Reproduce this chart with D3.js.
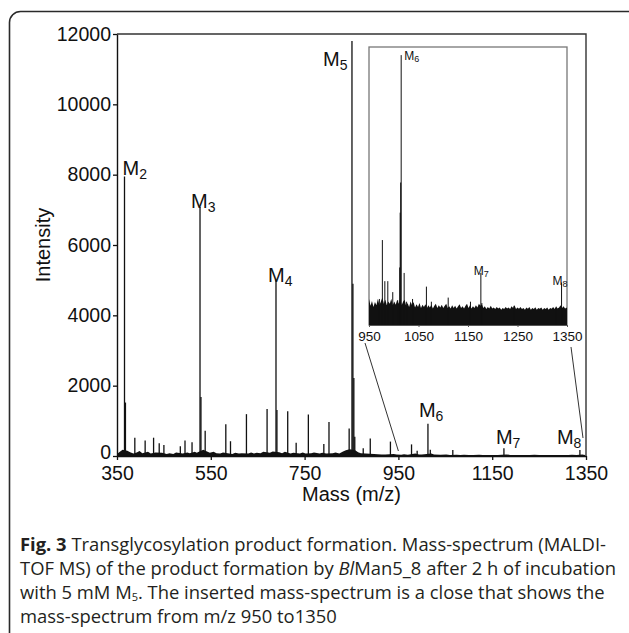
<!DOCTYPE html>
<html>
<head>
<meta charset="utf-8">
<script src="https://cdn.jsdelivr.net/npm/d3@7"></script>
<style>
  body { margin: 0; background: #fff; }
  svg { display: block; }
</style>
</head>
<body>
<div id="chart"></div>
<script>
// tick values
const massTicks = [350, 550, 750, 950, 1150, 1350];
const intensityTicks = [0, 2000, 4000, 6000, 8000, 10000, 12000];
const insetTicks = [950, 1050, 1150, 1250, 1350];

// main spectrum: major and minor peaks [m/z, intensity]
const mainPeaks = [
  [366, 7950], [368, 1520], [388, 520], [410, 440], [428, 520], [440, 360], [450, 310],
  [485, 280], [495, 440], [510, 390], [527, 7080], [529, 1680], [538, 720],
  [582, 900], [592, 420], [626, 1190], [670, 1340], [689, 5020], [691, 1310],
  [714, 1270], [732, 380], [758, 1180], [791, 340], [802, 970], [845, 780],
  [851, 11800], [853, 4900], [855, 2220], [857, 550], [875, 220], [890, 500],
  [933, 410], [978, 330], [990, 150], [1013, 920], [1018, 180], [1066, 170],
  [1175, 220], [1337, 170]
];

// main spectrum: noise floor [m/z, intensity]
const mainNoise = [
  [352, 80], [356, 120], [362, 180], [372, 150], [378, 110], [385, 70], [392, 100],
  [398, 140], [404, 80], [416, 120], [422, 70], [432, 100], [446, 90], [456, 60],
  [462, 80], [470, 60], [476, 100], [490, 70], [500, 100], [505, 80], [516, 120],
  [520, 90], [534, 180], [542, 130], [548, 90], [556, 120], [562, 80], [570, 70],
  [576, 100], [586, 80], [596, 60], [602, 90], [610, 70], [616, 80], [630, 70],
  [636, 100], [642, 70], [648, 90], [656, 80], [662, 120], [676, 90], [682, 130],
  [696, 110], [702, 80], [708, 120], [720, 70], [726, 90], [740, 70], [746, 100],
  [752, 70], [764, 80], [770, 100], [782, 70], [788, 90], [796, 70], [810, 80],
  [816, 100], [824, 70], [832, 130], [838, 160], [846, 190], [858, 160], [864, 110],
  [870, 80], [880, 70], [898, 60], [906, 50], [914, 45], [922, 40], [940, 55],
  [946, 40], [956, 35], [962, 50], [970, 35], [986, 70], [994, 45], [1000, 40],
  [1020, 70], [1026, 45], [1040, 35], [1052, 40], [1060, 30], [1074, 35], [1082, 30],
  [1090, 35], [1100, 28], [1110, 30], [1122, 35], [1130, 28], [1140, 30], [1150, 32],
  [1162, 28], [1170, 35], [1180, 40], [1190, 30], [1200, 28], [1210, 32], [1222, 28],
  [1230, 30], [1240, 35], [1250, 28], [1262, 30], [1272, 28], [1282, 32], [1292, 28],
  [1300, 30], [1312, 28], [1320, 35], [1330, 30], [1342, 40], [1348, 25]
];

// peak labels [index, m/z, intensity at label baseline]
const mainLabels = [
  ["2", 366, 8000], ["3", 527, 7050], ["4", 689, 4960],
  ["5", 851, 11100], ["6", 1013, 1120], ["7", 1175, 340], ["8", 1337, 340]
];

// inset spectrum (relative units, M6 = top)
const insetPeaks = [
  [971, 95], [977, 310], [982, 160], [988, 160], [998, 120], [1008, 90],
  [1012, 210], [1013, 410], [1014, 520], [1015, 985], [1021, 190], [1026, 85],
  [1038, 95], [1066, 140], [1076, 85], [1110, 100], [1155, 85], [1176, 190],
  [1178, 80], [1243, 70], [1327, 60], [1339, 155]
];

const insetNoise = [
  [950, 95], [953, 70], [956, 88], [959, 66], [962, 84], [965, 72], [968, 96],
  [971, 72], [974, 86], [977, 100], [980, 78], [983, 92], [986, 72], [989, 86],
  [992, 78], [995, 96], [998, 72], [1001, 86], [1004, 74], [1007, 92], [1010, 78],
  [1013, 96], [1016, 72], [1019, 86], [1022, 92], [1025, 70], [1028, 80], [1031, 66],
  [1034, 86], [1037, 72], [1040, 84], [1043, 64], [1046, 76], [1049, 66], [1052, 80],
  [1055, 62], [1058, 74], [1061, 66], [1064, 76], [1067, 62], [1070, 72], [1073, 64],
  [1076, 74], [1079, 60], [1082, 70], [1085, 78], [1088, 62], [1091, 72], [1094, 64],
  [1097, 74], [1100, 62], [1103, 70], [1106, 78], [1109, 62], [1112, 68], [1115, 60],
  [1118, 72], [1121, 62], [1124, 70], [1127, 60], [1130, 68], [1133, 76], [1136, 62],
  [1139, 68], [1142, 60], [1145, 70], [1148, 78], [1151, 62], [1154, 72], [1157, 60],
  [1160, 68], [1163, 62], [1166, 72], [1169, 64], [1172, 78], [1175, 70], [1178, 76],
  [1181, 62], [1184, 68], [1187, 58], [1190, 66], [1193, 60], [1196, 70], [1199, 60],
  [1202, 64], [1205, 58], [1208, 66], [1211, 60], [1214, 64], [1217, 56], [1220, 62],
  [1223, 58], [1226, 66], [1229, 60], [1232, 64], [1235, 58], [1238, 68], [1241, 62],
  [1244, 72], [1247, 58], [1250, 64], [1253, 59], [1256, 66], [1259, 58], [1262, 62],
  [1265, 56], [1268, 64], [1271, 59], [1274, 66], [1277, 56], [1280, 62], [1283, 58],
  [1286, 65], [1289, 56], [1292, 62], [1295, 59], [1298, 64], [1301, 56], [1304, 62],
  [1307, 58], [1310, 64], [1313, 56], [1316, 62], [1319, 59], [1322, 66], [1325, 58],
  [1328, 68], [1331, 60], [1334, 64], [1337, 72], [1340, 62], [1343, 68], [1346, 60], [1350, 64]
];

const insetLabels = [["6", 1015, 1000], ["7", 1176, 215], ["8", 1339, 180]];

const captionLines = [
  [{ t: "Fig. 3", b: true }, { t: " Transglycosylation product formation. Mass-spectrum (MALDI-" }],
  [{ t: "TOF MS) of the product formation by " }, { t: "Bl", i: true }, { t: "Man5_8 after 2 h of incubation" }],
  [{ t: "with 5 mM M" }, { t: "5", sub: true }, { t: ". The inserted mass-spectrum is a close that shows the", up: true }],
  [{ t: "mass-spectrum from m/z 950 to1350" }]
];

const W = 629, H = 633;
const axisFont = "'Liberation Sans', Arial, sans-serif";

const svg = d3.select("#chart").append("svg")
  .attr("width", W)
  .attr("height", H);

// rounded figure frame, runs off the right and bottom
svg.append("rect")
  .attr("x", 9.5).attr("y", 11.5)
  .attr("width", 640).attr("height", 660)
  .attr("rx", 11)
  .attr("fill", "none")
  .attr("stroke", "#2a2a2a")
  .attr("stroke-width", 1.6);

// main scales
const x = d3.scaleLinear().domain([350, 1350]).range([117, 586]);
const y = d3.scaleLinear().domain([0, 12000]).range([456, 34]);

const main = svg.append("g");

// top and right frame lines
main.append("path")
  .attr("d", d3.line()([[x(350), y(12000)], [x(1350), y(12000)], [x(1350), y(0)]]))
  .attr("fill", "none")
  .attr("stroke", "#333")
  .attr("stroke-width", 1.4);

// noise floor
main.append("path")
  .datum(mainNoise)
  .attr("d", d3.area().x(d => x(d[0])).y0(y(0)).y1(d => y(d[1])))
  .attr("fill", "#111");

// peaks
main.selectAll("line.peak")
  .data(mainPeaks)
  .enter()
  .append("line")
  .attr("class", "peak")
  .attr("x1", d => x(d[0])).attr("x2", d => x(d[0]))
  .attr("y1", y(0)).attr("y2", d => y(d[1]))
  .attr("stroke", "#111")
  .attr("stroke-width", 1.3);

// axes
const xAxis = main.append("g")
  .attr("transform", `translate(0,${y(0)})`)
  .call(d3.axisBottom(x).tickValues(massTicks).tickFormat(d3.format("d"))
    .tickSize(4).tickSizeOuter(0).tickPadding(6.5));

const yAxis = main.append("g")
  .attr("transform", `translate(${x(350)},0)`)
  .call(d3.axisLeft(y).tickValues(intensityTicks).tickFormat(d3.format("d"))
    .tickSize(4).tickSizeOuter(0).tickPadding(2));

[xAxis, yAxis].forEach(g => {
  g.attr("font-family", axisFont).attr("font-size", 19.5);
  g.select(".domain").attr("stroke", "#111").attr("stroke-width", 1.4);
  g.selectAll(".tick line").attr("stroke", "#111").attr("stroke-width", 1.3);
  g.selectAll("text").attr("fill", "#111");
});
// lift the "0" a little so it clears the "350" below it
yAxis.selectAll(".tick text").filter(d => d === 0).attr("dy", "0.12em");

main.append("text")
  .text("Mass (m/z)")
  .attr("x", (x(350) + x(1350)) / 2)
  .attr("y", 501)
  .attr("text-anchor", "middle")
  .attr("font-family", axisFont)
  .attr("font-size", 20)
  .attr("fill", "#111");

main.append("text")
  .text("Intensity")
  .attr("transform", `translate(50,${(y(0) + y(12000)) / 2}) rotate(-90)`)
  .attr("text-anchor", "middle")
  .attr("font-family", axisFont)
  .attr("font-size", 20)
  .attr("fill", "#111");

// peak labels
const labelOffsets = { "2": -2, "3": -9, "4": -8, "5": -29, "6": -9, "7": -8, "8": -23 };
mainLabels.forEach(([n, mz, v]) => {
  const t = main.append("text")
    .attr("x", x(mz) + labelOffsets[n])
    .attr("y", y(v))
    .attr("font-family", axisFont)
    .attr("font-size", 20)
    .attr("fill", "#111");
  t.append("tspan").text("M");
  t.append("tspan").text(n).attr("dy", 4).attr("font-size", 14);
});

// inset
const xi = d3.scaleLinear().domain([950, 1350]).range([369, 567]);
const yi = d3.scaleLinear().domain([0, 1000]).range([325, 51]);

const inset = svg.append("g");

inset.append("rect")
  .attr("x", xi(950)).attr("y", 47)
  .attr("width", xi(1350) - xi(950)).attr("height", yi(0) - 47)
  .attr("fill", "#fff")
  .attr("stroke", "#777")
  .attr("stroke-width", 1.3);

inset.append("path")
  .datum(insetNoise)
  .attr("d", d3.area().x(d => xi(d[0])).y0(yi(0)).y1(d => yi(d[1])))
  .attr("fill", "#111");

inset.selectAll("line.peak")
  .data(insetPeaks)
  .enter()
  .append("line")
  .attr("class", "peak")
  .attr("x1", d => xi(d[0])).attr("x2", d => xi(d[0]))
  .attr("y1", yi(0)).attr("y2", d => yi(d[1]))
  .attr("stroke", "#111")
  .attr("stroke-width", 1);

const xiAxis = inset.append("g")
  .attr("transform", `translate(0,${yi(0)})`)
  .call(d3.axisBottom(xi).tickValues(insetTicks).tickFormat(d3.format("d"))
    .tickSize(2).tickSizeOuter(0).tickPadding(4));
xiAxis.attr("font-family", axisFont).attr("font-size", 13.5);
xiAxis.select(".domain").attr("stroke", "#555").attr("stroke-width", 1.2);
xiAxis.selectAll(".tick line").attr("stroke", "#555");
xiAxis.selectAll("text").attr("fill", "#111");

const insetLabelDx = { "6": 3, "7": -7, "8": -9 };
insetLabels.forEach(([n, mz, v]) => {
  const t = inset.append("text")
    .attr("x", xi(mz) + insetLabelDx[n])
    .attr("y", yi(v) + 9)
    .attr("font-family", axisFont)
    .attr("font-size", 12)
    .attr("fill", "#111");
  t.append("tspan").text("M");
  t.append("tspan").text(n).attr("dy", 2).attr("font-size", 9);
});

// zoom guide lines from inset to main axis
const guides = [
  [[365, 343], [x(950), 451]],
  [[571, 347], [583, 438]]
];
guides.forEach(g => {
  svg.append("path")
    .attr("d", d3.line()(g))
    .attr("stroke", "#333")
    .attr("stroke-width", 1)
    .attr("fill", "none");
});

// caption
const cap = svg.append("g")
  .attr("font-family", "'Open Sans', 'Noto Sans', sans-serif")
  .attr("font-size", 18.4)
  .attr("fill", "#231f20");

captionLines.forEach((parts, i) => {
  const t = cap.append("text")
    .attr("x", 20)
    .attr("y", 551 + i * 24);
  parts.forEach(p => {
    const s = t.append("tspan").text(p.t);
    if (p.b) s.attr("font-weight", "bold");
    if (p.i) s.attr("font-style", "italic");
    if (p.sub) s.attr("dy", 2).attr("font-size", 11);
    if (p.up) s.attr("dy", -2);
  });
});
</script>
</body>
</html>
